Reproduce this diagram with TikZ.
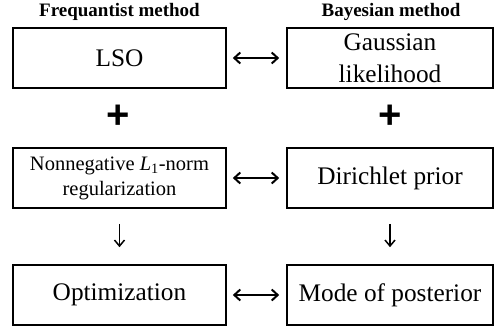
\documentclass[tikz,border=0pt]{standalone}
\usepackage{fontspec}
\setmainfont{Liberation Serif}
\newfontfamily\plusfont{Liberation Sans}
\usetikzlibrary{arrows.meta}
\begin{document}
\begin{tikzpicture}[x=1pt,y=-1pt,
  box/.style={draw, line width=1.6pt, minimum width=213pt, minimum height=60pt, inner sep=0pt, align=center, font=\fontsize{25.3}{32}\selectfont},
  rbox/.style={box, minimum width=206pt},
  head/.style={font=\fontsize{19}{22}\selectfont\bfseries},
  plusnode/.style={font=\fontsize{40}{42}\selectfont\plusfont\bfseries, inner sep=0pt},
  dbl/.style={{Straight Barb[length=6pt,width=11pt]}-{Straight Barb[length=6pt,width=11pt]}, line width=2pt, shorten <=6pt, shorten >=7pt},
  down/.style={-{Straight Barb[length=6pt,width=10pt]}, line width=1.5pt, shorten <=15pt, shorten >=17pt}]
\useasboundingbox (0,0) rectangle (495,329);
\node[head] (h1) at (119.5,12) {Frequantist method};
\node[head] (h2) at (391,12) {Bayesian method};
\node[box] (lso) at (119.5,58) {LSO};
\node[rbox] (gauss) at (390,58) {Gaussian\\likelihood};
\node[plusnode] (p1) at (118.5,117) {+};
\node[plusnode] (p2) at (390,117) {+};
\node[box, font=\fontsize{20.5}{25}\selectfont] (reg) at (119.5,178) {Nonnegative \textit{L}\textsubscript{1}-norm\\regularization};
\node[rbox] (dir) at (390,178) {Dirichlet prior};
\node[box] (opt) at (119.5,295) {Optimization};
\node[rbox] (mode) at (390,295) {Mode of posterior};
\draw[dbl] (lso) -- (gauss);
\draw[dbl] (reg) -- (dir);
\draw[dbl] (opt) -- (mode);
\draw[down] (reg) -- (opt);
\draw[down] (dir) -- (mode);
\end{tikzpicture}
\end{document}
